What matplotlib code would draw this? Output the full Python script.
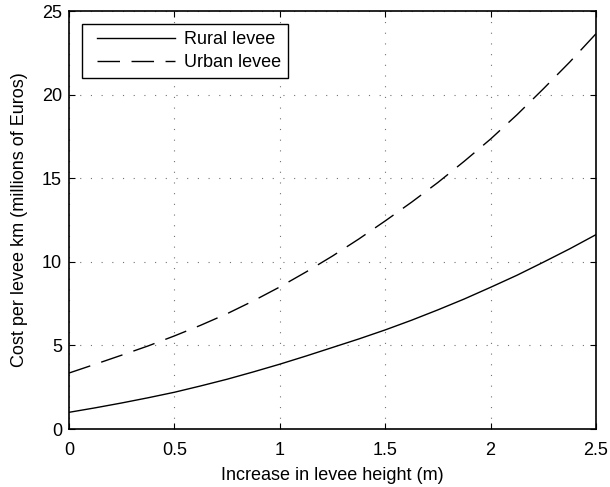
import matplotlib
matplotlib.use("Agg")
import matplotlib.pyplot as plt
from matplotlib.legend_handler import HandlerLine2D

plt.rcParams['font.family'] = ['Liberation Sans', 'DejaVu Sans']
plt.rcParams['lines.scale_dashes'] = False

height = [0, 0.125, 0.25, 0.375, 0.5, 0.625, 0.75, 0.875, 1.0, 1.125, 1.25,
          1.375, 1.5, 1.625, 1.75, 1.875, 2.0, 2.125, 2.25, 2.375, 2.5]
rural = [1.0, 1.27, 1.56, 1.87, 2.2, 2.58, 2.98, 3.42, 3.88, 4.37, 4.88,
         5.39, 5.93, 6.51, 7.13, 7.78, 8.48, 9.2, 9.98, 10.78, 11.63]
urban = [3.35, 3.88, 4.42, 4.97, 5.57, 6.21, 6.9, 7.67, 8.5, 9.4, 10.35,
         11.37, 12.45, 13.57, 14.75, 16.02, 17.35, 18.8, 20.35, 21.95, 23.65]
xticks = [0, 0.5, 1, 1.5, 2, 2.5]
xticklabels = ['0', '0.5', '1', '1.5', '2', '2.5']
yticks = [0, 5, 10, 15, 20, 25]

fig = plt.figure(figsize=(6.1, 4.87), dpi=100)
ax = fig.add_axes([0.113, 0.119, 0.864, 0.858])

ax.plot(height, rural, color='black', lw=1.0, label='Rural levee')
ax.plot(height, urban, color='black', lw=1.0, dashes=(16.2, 8.3), label='Urban levee')

ax.set_xlim(0, 2.5)
ax.set_ylim(0, 25)
ax.set_xticks(xticks)
ax.set_xticklabels(xticklabels)
ax.set_yticks(yticks)
ax.tick_params(direction='in', top=True, right=True, labelsize=13, length=4, width=0.8)
ax.tick_params(axis='x', pad=9)
ax.tick_params(axis='y', pad=5)
ax.grid(True, linestyle=(0, (0.8, 6.9)), color='black', linewidth=0.8, alpha=0.55)
for s in ax.spines.values():
    s.set_linewidth(1.2)

ax.set_xlabel('Increase in levee height (m)', fontsize=13, labelpad=6)
ax.set_ylabel('Cost per levee km (millions of Euros)', fontsize=13, labelpad=10)

hm = HandlerLine2D(xpad=0.45)
leg = ax.legend(loc='upper left', fontsize=13, fancybox=False, framealpha=1,
                edgecolor='black', handlelength=4.75, handletextpad=0.5,
                borderaxespad=0.72, borderpad=0.4, labelspacing=0.3,
                handler_map={matplotlib.lines.Line2D: hm})
leg.get_frame().set_linewidth(1.0)

fig.savefig('out.png', dpi=100)
